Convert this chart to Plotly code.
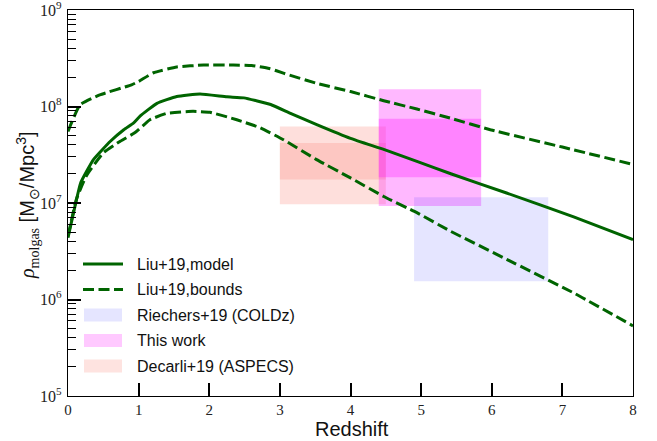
import plotly.graph_objects as go

# Liu+19 molecular gas density model (redshift, rho in Msun/Mpc^3)
model_z = [0.0, 0.1, 0.18, 0.36, 0.6, 0.79, 0.93, 1.02, 1.26, 1.54, 1.87, 2.25, 2.49,
           2.87, 3.15, 3.53, 4.0, 4.48, 4.95, 5.43, 6.21, 7.16, 8.0]
model_rho = [4.37e6, 9.33e6, 1.62e7, 2.82e7, 4.37e7, 5.75e7, 6.76e7, 7.94e7, 1.08e8,
             1.27e8, 1.35e8, 1.26e8, 1.23e8, 1.05e8, 8.51e7, 6.46e7, 4.68e7, 3.57e7,
             2.69e7, 2.00e7, 1.27e7, 7.19e6, 4.17e6]

# Liu+19 upper bound
upper_z = [0.0, 0.17, 0.45, 0.9, 1.0, 1.21, 1.54, 1.92, 2.34, 2.6, 2.85, 3.05, 3.52, 4.0,
           4.47, 4.94, 5.41, 5.98, 7.0, 8.0]
upper_rho = [5.52e7, 1.04e8, 1.32e8, 1.68e8, 1.82e8, 2.24e8, 2.57e8, 2.69e8, 2.69e8,
             2.66e8, 2.48e8, 2.22e8, 1.74e8, 1.43e8, 1.15e8, 9.42e7, 7.59e7, 5.75e7,
             3.80e7, 2.51e7]

# Liu+19 lower bound
lower_z = [0.0, 0.12, 0.26, 0.5, 0.74, 0.95, 1.16, 1.4, 1.77, 2.01, 2.39, 2.72, 3.05,
           3.52, 4.0, 4.47, 4.94, 5.41, 6.21, 7.16, 8.0]
lower_rho = [4.54e6, 1.10e7, 1.91e7, 3.31e7, 4.37e7, 5.37e7, 7.29e7, 8.51e7, 8.91e7,
             8.71e7, 7.29e7, 6.03e7, 4.53e7, 2.82e7, 1.82e7, 1.17e7, 7.94e6, 5.13e6,
             2.61e6, 1.17e6, 5.33e5]

# Observational constraints: redshift bin and density ranges
riechers_z = [4.9, 6.8]
riechers_rho = [[1.55e6, 1.15e7]]
thiswork_z = [4.4, 5.85]
thiswork_rho = [[9.3e6, 7.46e7], [1.85e7, 1.51e8]]
decarli_z = [3.0, 4.5]
decarli_rho = [[9.7e6, 4.2e7], [1.75e7, 6.2e7]]

# Axis ticks
y_ticks = [1e5, 1e6, 1e7, 1e8, 1e9]
y_ticktext = ["10<sup>5</sup>", "10<sup>6</sup>", "10<sup>7</sup>", "10<sup>8</sup>", "10<sup>9</sup>"]
x_ticks = [0, 1, 2, 3, 4, 5, 6, 7, 8]

legend_labels = ["Liu+19,model", "Liu+19,bounds", "Riechers+19 (COLDz)",
                 "This work", "Decarli+19 (ASPECS)"]

GREEN = "#006400"
BLUE_FILL = "rgba(0,0,255,0.10)"
MAG_FILL = "rgba(255,0,255,0.28)"
SALMON_FILL = "rgba(250,128,114,0.25)"
DASH = "11px,4.5px"

fig = go.Figure()


def add_box(zr, rr, color):
    z0, z1 = zr
    for lo, hi in rr:
        fig.add_trace(go.Scatter(
            x=[z0, z1, z1, z0, z0], y=[lo, lo, hi, hi, lo],
            mode="lines", fill="toself", fillcolor=color,
            line=dict(width=0), hoverinfo="skip", showlegend=False))


add_box(decarli_z, decarli_rho, SALMON_FILL)
add_box(thiswork_z, thiswork_rho, MAG_FILL)
add_box(riechers_z, riechers_rho, BLUE_FILL)

curve_style = dict(shape="spline", smoothing=0.4)
fig.add_trace(go.Scatter(x=upper_z, y=upper_rho, mode="lines", showlegend=False,
                         line=dict(color=GREEN, width=3, dash=DASH, **curve_style)))
fig.add_trace(go.Scatter(x=lower_z, y=lower_rho, mode="lines", showlegend=False,
                         line=dict(color=GREEN, width=3, dash=DASH, **curve_style)))
fig.add_trace(go.Scatter(x=model_z, y=model_rho, mode="lines", showlegend=False,
                         line=dict(color=GREEN, width=3, **curve_style)))

# Plot area in pixels, used to place the hand-built legend and axis titles
L, R, T, B = 68, 633, 10, 396
W, H = R - L, B - T


def px(x):
    return (x - L) / W


def py(y):
    return (B - y) / H


rows = [264, 289.5, 315, 340.5, 366]
shapes = [
    dict(type="line", xref="paper", yref="paper", x0=px(83), x1=px(123),
         y0=py(rows[0]), y1=py(rows[0]), line=dict(color=GREEN, width=3)),
    dict(type="line", xref="paper", yref="paper", x0=px(83), x1=px(123),
         y0=py(rows[1]), y1=py(rows[1]), line=dict(color=GREEN, width=3, dash=DASH)),
]
for r, c in zip(rows[2:], ["rgba(0,0,255,0.10)", "rgba(255,0,255,0.21)", "rgba(250,128,114,0.22)"]):
    shapes.append(dict(type="rect", xref="paper", yref="paper", x0=px(84), x1=px(122),
                       y0=py(r + 6.5), y1=py(r - 6.5), fillcolor=c, line=dict(width=0)))

annotations = [
    dict(xref="paper", yref="paper", x=px(135), y=py(r), text=t, showarrow=False,
         xanchor="left", yanchor="middle",
         font=dict(family="Liberation Sans", size=16, color="#111"))
    for r, t in zip(rows, legend_labels)
]
annotations.append(dict(
    xref="paper", yref="paper", x=px(27), y=py(205), textangle=-90, showarrow=False,
    xanchor="center", yanchor="middle",
    text=("<span style='font-family:Liberation Serif'><i>ρ</i><sub>molgas</sub></span>"
          " [M<sub>⊙</sub>/Mpc<sup>3</sup>]"),
    font=dict(family="Liberation Sans", size=20, color="#111")))
annotations.append(dict(
    xref="paper", yref="paper", x=px(352), y=py(429), showarrow=False,
    xanchor="center", yanchor="middle", text="Redshift",
    font=dict(family="Liberation Sans", size=20, color="#111")))

fig.update_layout(
    width=657, height=441,
    margin=dict(l=L, r=657 - R, t=T, b=441 - B, autoexpand=False),
    paper_bgcolor="white", plot_bgcolor="white",
    shapes=shapes, annotations=annotations,
    xaxis=dict(
        range=[0, 8], tickmode="array", tickvals=x_ticks, showgrid=False, zeroline=False,
        automargin=False,
        showline=True, mirror=True, linecolor="black", linewidth=1.3,
        ticks="inside", ticklen=13, tickwidth=1.6, tickcolor="black",
        tickfont=dict(family="Liberation Serif", size=15, color="#222"),
        ticklabelstandoff=0,
    ),
    yaxis=dict(
        type="log", range=[5, 9.0005], tickmode="array", tickvals=y_ticks,
        ticktext=y_ticktext, showgrid=False, zeroline=False,
        automargin=False,
        showline=True, mirror=True, linecolor="black", linewidth=1.3,
        ticks="inside", ticklen=13, tickwidth=1.6, tickcolor="black",
        tickfont=dict(family="Liberation Serif", size=16, color="#222"),
        ticklabelstandoff=2, ticklabeloverflow="allow",
        minor=dict(ticks="inside", ticklen=7.5, tickwidth=1.4, tickcolor="black",
                   dtick="D1", showgrid=False),
    ),
)

fig.write_html("out.html")
